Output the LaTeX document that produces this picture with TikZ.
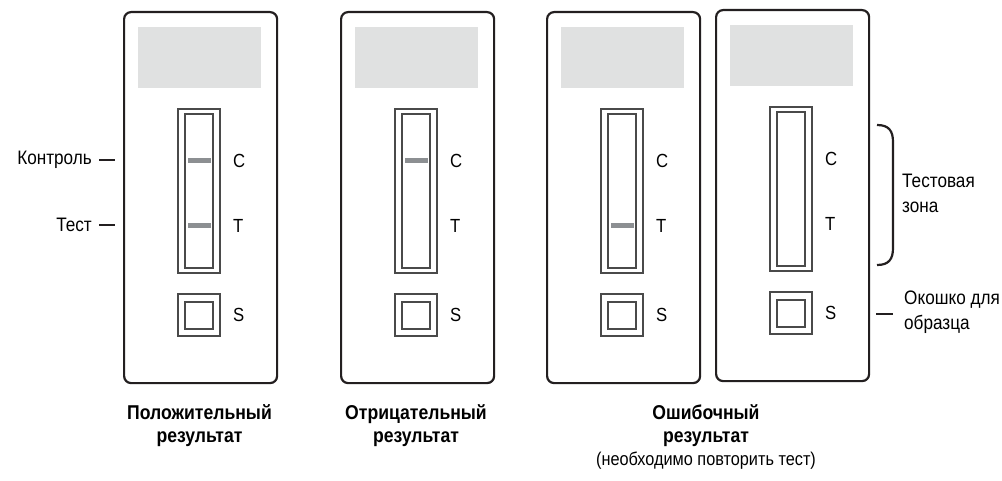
\documentclass[tikz,border=0pt]{standalone}
\usepackage{fontspec}
\setmainfont{Liberation Sans}[FakeStretch=0.88]
\definecolor{cardline}{HTML}{231F20}
\definecolor{frameline}{HTML}{4A4A4A}
\definecolor{windowgray}{HTML}{E0E1E1}
\definecolor{bandgray}{HTML}{8C8F92}
\tikzset{
  card/.style={draw=cardline, line width=2.2pt, rounded corners=7pt, inner sep=0pt},
  frame/.style={draw=frameline, line width=1.3pt},
  window/.style={fill=windowgray},
  band/.style={fill=bandgray},
  letter/.style={anchor=west, inner sep=0pt, font=\fontsize{19}{22}\selectfont},
  side/.style={inner sep=0pt, font=\fontsize{19.5}{25}\selectfont, align=left},
  leader/.style={draw=cardline, line width=2.4pt},
  caption/.style={anchor=north, inner sep=0pt, align=center,
    font=\fontsize{20}{23}\selectfont\bfseries},
}
% one test cassette: #1 name, #2/#3 top-left corner, #4 coloured bands
\newcommand\cassette[4]{%
  \begin{scope}[shift={(#2,#3)}]
    \node[card, anchor=north west, minimum width=153pt, minimum height=371pt] (#1) at (0,0) {};
    \fill[window] (15,16) rectangle (138,77);
    \draw[frame] (55,98) rectangle (97,262);
    \draw[frame] (62,103) rectangle (90,257);
    \draw[frame] (55,283) rectangle (97,325);
    \draw[frame] (62,291) rectangle (90,318);
    \node[letter] (#1C) at (110,150) {C};
    \node[letter] (#1T) at (110,215) {T};
    \node[letter] (#1S) at (110,304) {S};
    #4
  \end{scope}}
\newcommand\bandC{\fill[band] (65,147.5) rectangle (88,152.5);}
\newcommand\bandT{\fill[band] (65,212.5) rectangle (88,217.5);}
\begin{document}
\begin{tikzpicture}[x=1pt, y=-1pt]
\useasboundingbox (0,0) rectangle (1002,481);

% the four cassettes
\cassette{pos}{123}{11}{\bandC\bandT}
\cassette{neg}{340}{11}{\bandC}
\cassette{errA}{546}{11}{\bandT}
\cassette{errB}{715}{9}{}

% left-hand labels with their leader dashes
\node[side, anchor=east] (ctrl) at (92,160) {Контроль};
\node[side, anchor=east] (test) at (92,225) {Тест};
\draw[leader] ([xshift=7pt]ctrl.east) -- ++(16,0);
\draw[leader] ([xshift=7pt]test.east) -- ++(16,0);

% right-hand labels: bracket over the test zone, dash at the sample well
\coordinate (brTop) at (877,125);
\coordinate (brBot) at (877,265);
\draw[leader, line width=2.2pt] (brTop) .. controls (889,125) and (893,131) .. (893,142)
  -- (893,248) .. controls (893,259) and (889,265) .. (brBot);
\node[side, anchor=west] (zone) at (902,193) {Тестовая\\зона};
\coordinate (wellDash) at (876,314);
\node[side, anchor=west] (well) at (904,312) {Окошко для\\образца};
\draw[leader] (wellDash) -- ++(17,0);

% captions under the cassettes
\node[caption] (capPos) at (199.5,404) {Положительный\\результат};
\node[caption] (capNeg) at (416,404) {Отрицательный\\результат};
\node[caption] (capErr) at (706,404) {Ошибочный\\результат\\
  {\fontsize{18.5}{22}\selectfont\mdseries (необходимо повторить тест)}};
\end{tikzpicture}
\end{document}
